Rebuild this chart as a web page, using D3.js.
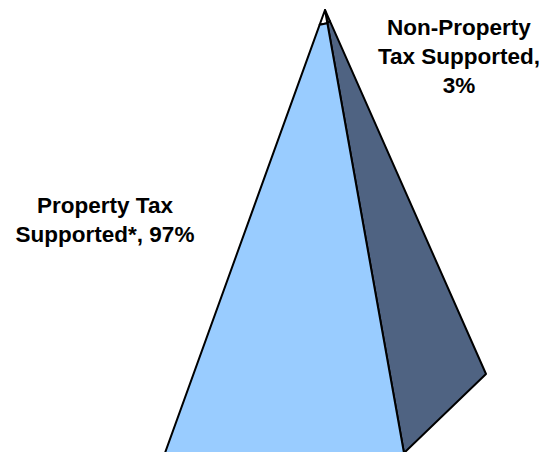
<!DOCTYPE html>
<html>
<head>
<meta charset="utf-8">
<script src="https://cdn.jsdelivr.net/npm/d3@7/dist/d3.min.js"></script>
<style>
html,body{margin:0;padding:0;background:#fff;}
svg{display:block;}
text{font-family:"Liberation Sans",Arial,sans-serif;font-weight:bold;fill:#000;}
</style>
</head>
<body>
<svg id="chart" width="551" height="452"></svg>
<script>
// Data (top of pyramid first)
const categories = ["Non-Property Tax Supported", "Property Tax Supported*"];
const values = [3, 97];
const labelLines = [
  ["Non-Property", "Tax Supported,", "3%"],
  ["Property Tax", "Supported*, 97%"]
];

const W = 551, H = 452;
const svg = d3.select("#chart");

// Pyramid geometry (layout)
const apex = [325, 10];
const cornerFrontLeft = [148, 500];
const cornerFrontRight = [404, 453];
const cornerBackRight = [486, 374];

const frontColors = ["#ffffff", "#99ccff"];
const sideColors = ["#7f7f7f", "#4f6382"];

const total = d3.sum(values);
const t = d3.scaleLinear().domain([0, total]).range([0, 1]);
const lerp = (a, b, f) => [a[0] + (b[0] - a[0]) * f, a[1] + (b[1] - a[1]) * f];

let cum = 0;
const slices = values.map((v, i) => {
  const s = { i, t0: t(cum), t1: t(cum + v) };
  cum += v;
  return s;
});

const g = svg.append("g");
const line = d3.line();

slices.forEach(s => {
  const front = [
    lerp(apex, cornerFrontLeft, s.t0), lerp(apex, cornerFrontRight, s.t0),
    lerp(apex, cornerFrontRight, s.t1), lerp(apex, cornerFrontLeft, s.t1)
  ];
  const side = [
    lerp(apex, cornerFrontRight, s.t0), lerp(apex, cornerBackRight, s.t0),
    lerp(apex, cornerBackRight, s.t1), lerp(apex, cornerFrontRight, s.t1)
  ];
  g.append("path").attr("d", line(side) + "Z")
    .attr("fill", sideColors[s.i]).attr("stroke", "#000").attr("stroke-width", 2)
    .attr("stroke-linejoin", "round");
  g.append("path").attr("d", line(front) + "Z")
    .attr("fill", frontColors[s.i]).attr("stroke", "#000").attr("stroke-width", 2)
    .attr("stroke-linejoin", "round");
});

// Labels
const labelPos = [[459, 35], [105, 213]];
labelLines.forEach((lines, i) => {
  const txt = svg.append("text")
    .attr("x", labelPos[i][0]).attr("y", labelPos[i][1])
    .attr("text-anchor", "middle").style("font-size", "22.5px");
  lines.forEach((l, j) => {
    txt.append("tspan").attr("x", labelPos[i][0]).attr("dy", j === 0 ? 0 : 29).text(l);
  });
});
</script>
</body>
</html>
